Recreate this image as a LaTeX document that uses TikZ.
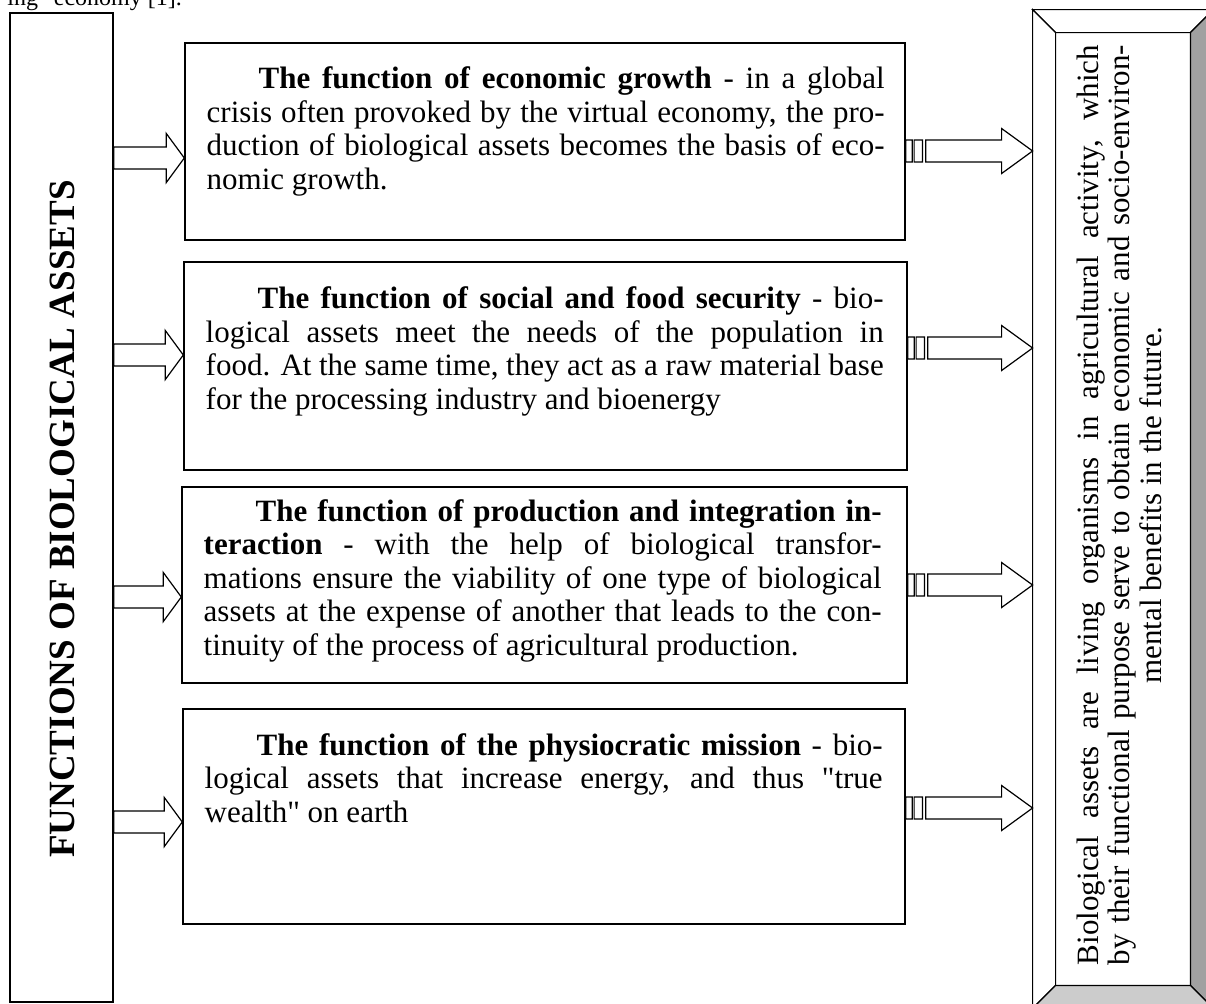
\documentclass[tikz,border=0pt]{standalone}
\usepackage{fontspec}
\setmainfont{Liberation Serif}[Ligatures=TeXOff]
\usetikzlibrary{calc,fit}
\newcommand{\justline}[1]{\makebox[\linewidth][s]{#1}}
\begin{document}
\begin{tikzpicture}[x=0.5pt,y=-0.5pt,
  box/.style={draw, line width=0.7pt, inner sep=0pt},
  bodytext/.style={inner sep=0pt, anchor=base west, font=\fontsize{15.5}{16.75}\selectfont},
  hollowarrow/.style={draw, line width=0.6pt, fill=white,
    to path={let \p1=(\tikztostart),\p2=(\tikztotarget) in
      (\x1,\y1+5.5pt) -- (\x2-9pt,\y1+5.5pt) -- (\x2-9pt,\y1+12.25pt) -- (\x2,\y1)
      -- (\x2-9pt,\y1-12.25pt) -- (\x2-9pt,\y1-5.5pt) -- (\x1,\y1-5.5pt) -- cycle}},
  stripedarrow/.style={draw, line width=0.6pt, fill=white,
    to path={let \p1=(\tikztostart),\p2=(\tikztotarget) in
      (\x1,\y1+5.5pt) rectangle (\x1+3.3pt,\y1-5.5pt)
      (\x1+4.2pt,\y1+5.5pt) rectangle (\x1+8.4pt,\y1-5.5pt)
      (\x1+10pt,\y1+5.5pt) -- (\x2-15.5pt,\y1+5.5pt) -- (\x2-15.5pt,\y1+11.25pt) -- (\x2,\y1)
      -- (\x2-15.5pt,\y1-11.25pt) -- (\x2-15.5pt,\y1-5.5pt) -- (\x1+10pt,\y1-5.5pt) -- cycle}},
  bevel/.style={draw, line width=0.6pt},
]
\useasboundingbox (0,0) rectangle (1206,1003);
\clip (0,0) rectangle (1206,1003);

% fragment of text above the figure
\node[anchor=base west, inner sep=0pt, font=\fontsize{12}{14}\selectfont] (frag) at (7,5.5) {ing" economy [1].};

% left box
\node[box, fit={(10,13) (113,1002)}] (L) {};
\node[rotate=90, inner sep=0pt, font=\bfseries\fontsize{18.5}{20}\selectfont] (H) at (62,519) {FUNCTIONS OF BIOLOGICAL ASSETS};

% middle boxes
\node[box, fit={(185,43) (905,240)}] (B1) {};
\node[box, fit={(184,262) (907,470)}] (B2) {};
\node[box, fit={(182,487) (907,683)}] (B3) {};
\node[box, fit={(183,709) (905,924)}] (B4) {};

\node[bodytext] (T1) at ($(B1.north west)+(22,46.5)$) {\parbox[t]{339pt}{%
\justline{\hspace*{26pt}\textbf{The function of economic growth} - in a global}\\
\justline{crisis often provoked by the virtual economy, the pro-}\\
\justline{duction of biological assets becomes the basis of eco-}\\
nomic growth.}};

\node[bodytext] (T2) at ($(B2.north west)+(22,47.5)$) {\parbox[t]{339pt}{%
\justline{\hspace*{26pt}\textbf{The function of social and food security} - bio-}\\
\justline{logical assets meet the needs of the population in}\\
\justline{food. At the same time, they act as a raw material base}\\
for the processing industry and bioenergy}};

\node[bodytext] (T3) at ($(B3.north west)+(22,35)$) {\parbox[t]{339pt}{%
\justline{\hspace*{26pt}\textbf{The function of production and integration in-}}\\
\justline{\textbf{teraction} - with the help of biological transfor-}\\
\justline{mations ensure the viability of one type of biological}\\
\justline{assets at the expense of another that leads to the con-}\\
tinuity of the process of agricultural production.}};

\node[bodytext] (T4) at ($(B4.north west)+(22,47)$) {\parbox[t]{339pt}{%
\justline{\hspace*{26pt}\textbf{The function of the physiocratic mission} - bio-}\\
\justline{logical assets that increase energy, and thus "true}\\
wealth" on earth}};

% right bevelled box
\node[inner sep=0pt, fit={(1033,10) (1213,1008)}] (R) {};
\node[inner sep=0pt, fit={(1056,33) (1190,985)}] (RI) {};
\fill[white] (R.north west) rectangle (R.south east);
\draw[bevel, fill=white] (R.north west) -- (R.north east) -- (RI.north east) -- (RI.north west) -- cycle;
\draw[bevel, fill=white] (R.north west) -- (RI.north west) -- (RI.south west) -- (R.south west) -- cycle;
\draw[bevel, fill=black!37] (R.north east) -- (R.south east) -- (RI.south east) -- (RI.north east) -- cycle;
\draw[bevel, fill=black!20] (R.south west) -- (RI.south west) -- (RI.south east) -- (R.south east) -- cycle;
\draw[line width=0.7pt] (RI.north west) rectangle (RI.south east);

\node[rotate=90, inner sep=0pt, font=\fontsize{15.5}{15.75}\selectfont] (RT) at ($(RI.center)+(-4,-4)$) {\parbox{460pt}{%
\justline{Biological assets are living organisms in agricultural activity, which}\\
\justline{by their functional purpose serve to obtain economic and socio-environ-}\\
\makebox[\linewidth][c]{mental benefits in the future.}}};

% left arrows
\coordinate (ly1) at (0,158);
\coordinate (ly2) at (0,355);
\coordinate (ly3) at (0,597);
\coordinate (ly4) at (0,822);
\coordinate (la1) at (L.east |- ly1); \coordinate (lb1) at (B1.west |- ly1);
\coordinate (la2) at (L.east |- ly2); \coordinate (lb2) at (B2.west |- ly2);
\coordinate (la3) at (L.east |- ly3); \coordinate (lb3) at (B3.west |- ly3);
\coordinate (la4) at (L.east |- ly4); \coordinate (lb4) at (B4.west |- ly4);
\draw[hollowarrow] (la1) to (lb1);
\draw[hollowarrow] (la2) to (lb2);
\draw[hollowarrow] (la3) to (lb3);
\draw[hollowarrow] (la4) to (lb4);

% right arrows
\coordinate (ry1) at (0,151);
\coordinate (ry2) at (0,348);
\coordinate (ry3) at (0,585);
\coordinate (ry4) at (0,808);
\coordinate (ra1) at (B1.east |- ry1); \coordinate (rb1) at (R.west |- ry1);
\coordinate (ra2) at (B2.east |- ry2); \coordinate (rb2) at (R.west |- ry2);
\coordinate (ra3) at (B3.east |- ry3); \coordinate (rb3) at (R.west |- ry3);
\coordinate (ra4) at (B4.east |- ry4); \coordinate (rb4) at (R.west |- ry4);
\draw[stripedarrow] (ra1) to (rb1);
\draw[stripedarrow] (ra2) to (rb2);
\draw[stripedarrow] (ra3) to (rb3);
\draw[stripedarrow] (ra4) to (rb4);
\end{tikzpicture}
\end{document}
